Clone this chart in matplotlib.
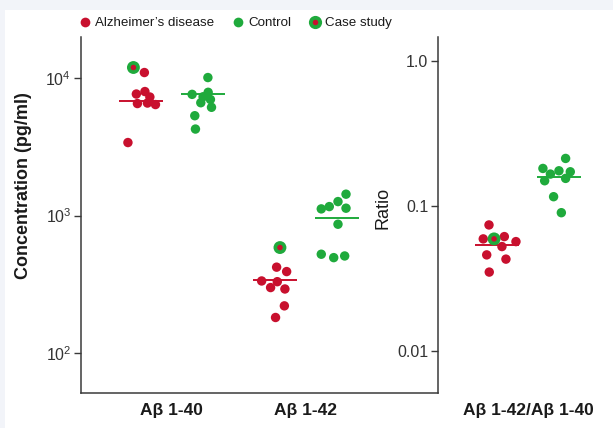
import matplotlib
matplotlib.use("Agg")
import matplotlib.pyplot as plt
import numpy as np
from matplotlib.lines import Line2D
from matplotlib.patches import Rectangle

plt.rcParams['font.family'] = ['Liberation Sans', 'DejaVu Sans']
plt.rcParams['mathtext.fontset'] = 'custom'
plt.rcParams['mathtext.rm'] = 'Liberation Sans'
plt.rcParams['mathtext.it'] = 'Liberation Sans:italic'
plt.rcParams['mathtext.bf'] = 'Liberation Sans:bold'

# ---------------- data ----------------
categories = ["Aβ 1-40", "Aβ 1-42"]
ratio_category = "Aβ 1-42/Aβ 1-40"
legend_labels = ["Alzheimer’s disease", "Control", "Case study"]

ad_ab40 = [11990, 11020, 7685, 8010, 7310, 6550, 6606, 6440, 3405]
ad_ab40_jitter = [-0.056, 0.026, -0.034, 0.030, 0.067, -0.026, 0.049, 0.109, -0.097]
ctrl_ab40 = [10130, 7640, 7340, 7910, 6640, 7010, 6150, 5340, 4270]
ctrl_ab40_jitter = [0.037, -0.081, 0.001, 0.039, -0.016, 0.056, 0.064, -0.061, -0.056]

ad_ab42 = [585, 421, 391, 334, 330, 299, 292, 220, 181]
ad_ab42_jitter = [0.040, 0.015, 0.090, -0.097, 0.020, -0.030, 0.077, 0.073, 0.007]
ctrl_ab42 = [1432, 1265, 1163, 1119, 1132, 865, 523, 494, 508]
ctrl_ab42_jitter = [0.070, 0.010, -0.055, -0.115, 0.070, 0.010, -0.115, -0.022, 0.060]

ad_ratio = [0.0740, 0.0593, 0.0593, 0.0615, 0.0568, 0.0525, 0.0460, 0.0430, 0.0350]
ad_ratio_jitter = [-0.060, -0.103, -0.022, 0.055, 0.142, 0.037, -0.077, 0.067, -0.058]
ctrl_ratio = [0.2128, 0.1815, 0.1660, 0.1749, 0.1722, 0.1493, 0.1550, 0.1159, 0.0899]
ctrl_ratio_jitter = [0.050, -0.120, -0.064, 0.0, 0.085, -0.107, 0.050, -0.040, 0.018]

# index of the case-study patient within each AD series
case_idx_ab40 = 0
case_idx_ab42 = 0
case_idx_ratio = 2

ad_medians = [6890, 340]
ctrl_medians = [7646, 967]
ad_ratio_median = 0.0538
ctrl_ratio_median = 0.159

conc_ticks = [1e2, 1e3, 1e4]
conc_tick_labels = [r"$10^2$", r"$10^3$", r"$10^4$"]
ratio_ticks = [0.01, 0.1, 1.0]
ratio_tick_labels = ["0.01", "0.1", "1.0"]

# ---------------- style ----------------
RED = "#c8102e"
GREEN = "#1faa3c"
SPINE = "#3a3a3a"
TXT = "#1a1a1a"
OFF = 0.232       # group offset
HALF = 0.165      # median line half width
DOT_S = 46
W, H = 613, 428

fig = plt.figure(figsize=(W / 100, H / 100), dpi=100)
fig.patch.set_facecolor("#f2f4f9")
fig.patches.append(Rectangle((5 / W, 0), 1, 1 - 10 / H, transform=fig.transFigure,
                             facecolor="white", edgecolor="none", zorder=-10))

ax = fig.add_axes([81 / W, 1 - 393 / H, (438 - 81) / W, (393 - 37) / H])
ax2 = fig.add_axes([438 / W, 1 - 393 / H, (W - 438) / W, (393 - 37) / H])
for a in (ax, ax2):
    a.set_facecolor("none")
    a.set_yscale("log")
    a.minorticks_off()
    for s in ("top", "right"):
        a.spines[s].set_visible(False)
    a.spines["left"].set_color(SPINE)
    a.spines["left"].set_linewidth(1.1)
    a.tick_params(axis="y", which="major", direction="out", length=5, width=1,
                  color=SPINE, labelsize=11.5, labelcolor="#333333", pad=2)
    a.tick_params(axis="y", which="minor", length=0)
    a.tick_params(axis="x", length=0, pad=7, labelsize=12.5)
ax.spines["bottom"].set_color(SPINE)
ax.spines["bottom"].set_linewidth(1.1)
ax2.spines["bottom"].set_visible(False)

def draw_group(a, xc, vals, jit, color, median, case=None):
    xs = xc + np.asarray(jit)
    a.plot([xc - HALF, xc + HALF], [median, median], color=color, lw=1.4, zorder=2,
           solid_capstyle="butt")
    mask = np.ones(len(vals), bool)
    if case is not None:
        mask[case] = False
    a.scatter(xs[mask], np.asarray(vals)[mask], s=DOT_S, color=color,
              edgecolors="none", zorder=3)
    if case is not None:
        a.scatter([xs[case]], [vals[case]], s=86, color=GREEN, edgecolors="none", zorder=4)
        a.scatter([xs[case]], [vals[case]], s=16, color=RED, edgecolors="none", zorder=5)

pos = np.arange(len(categories))
draw_group(ax, pos[0] - OFF, ad_ab40, ad_ab40_jitter, RED, ad_medians[0], case_idx_ab40)
draw_group(ax, pos[0] + OFF, ctrl_ab40, ctrl_ab40_jitter, GREEN, ctrl_medians[0])
draw_group(ax, pos[1] - OFF, ad_ab42, ad_ab42_jitter, RED, ad_medians[1], case_idx_ab42)
draw_group(ax, pos[1] + OFF, ctrl_ab42, ctrl_ab42_jitter, GREEN, ctrl_medians[1])

draw_group(ax2, -OFF, ad_ratio, ad_ratio_jitter, RED, ad_ratio_median, case_idx_ratio)
draw_group(ax2, OFF, ctrl_ratio, ctrl_ratio_jitter, GREEN, ctrl_ratio_median)

ax.set_xlim(-0.68, 1.99)
ax.set_ylim(51, 20000)
ax.set_xticks(pos)
ax.set_xticklabels(categories, fontweight="bold", color=TXT)
ax.set_yticks(conc_ticks)
ax.set_yticklabels(conc_tick_labels)
ax.set_ylabel("Concentration (pg/ml)", fontsize=13, fontweight="bold", color=TXT)
ax.yaxis.set_label_coords(-0.137, 0.584)

ax2.set_xlim(-0.674, 0.637)
ax2.set_ylim(0.00513, 1.464)
ax2.set_xticks([0])
ax2.set_xticklabels([ratio_category], fontweight="bold", color=TXT)
ax2.set_yticks(ratio_ticks)
ax2.set_yticklabels(ratio_tick_labels)
ax2.yaxis.tick_left()
ax2.set_ylabel("Ratio", fontsize=13, color=TXT)
ax2.yaxis.set_label_coords(-0.263, 0.52)

handles = [
    Line2D([], [], ls="none", marker="o", ms=7, color=RED, mec="none"),
    Line2D([], [], ls="none", marker="o", ms=7, color=GREEN, mec="none"),
    (Line2D([], [], ls="none", marker="o", ms=9.5, color=GREEN, mec="none"),
     Line2D([], [], ls="none", marker="o", ms=4, color=RED, mec="none")),
]
fig.legend(handles, legend_labels, loc="center", bbox_to_anchor=(235 / W, 1 - 23 / H),
           ncol=3, frameon=False, fontsize=9.6, handletextpad=0.25, columnspacing=1.3,
           handlelength=1.0, labelcolor=TXT)

fig.savefig("out.png", dpi=100)
